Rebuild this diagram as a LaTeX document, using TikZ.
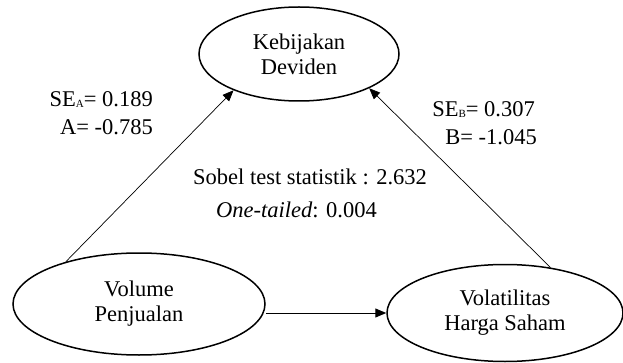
\documentclass[tikz,border=0pt]{standalone}
\usepackage{fontspec}
\setmainfont{Liberation Serif}
\usetikzlibrary{arrows.meta,shapes.geometric}

\newcommand{\sublbl}[1]{\raisebox{-1pt}{\fontsize{11}{11}\selectfont #1}}

\tikzset{
  var/.style={draw, ellipse, line width=1.5pt, inner sep=0pt, align=center,
              font=\fontsize{22.5}{25}\selectfont},
  txt/.style={inner sep=0pt, font=\fontsize{22.5}{27}\selectfont},
  path/.style={line width=0.7pt, -{Triangle[length=11pt,width=9pt]}},
  direct/.style={line width=1pt, -{Triangle[length=11pt,width=9pt]}},
}

\begin{document}
\begin{tikzpicture}[x=1pt, y=-1pt]
  \useasboundingbox (0,0) rectangle (623,363);

  % variables
  \node[var, minimum width=200pt, minimum height=94pt] (kd) at (299,54) {Kebijakan\\Deviden};
  \node[var, minimum width=252pt, minimum height=102pt] (vp) at (139,304) {Volume\\Penjualan};
  \node[var, minimum width=236pt, minimum height=97pt] (vh) at (505,313) {Volatilitas\\Harga Saham};

  % paths
  \draw[path] (vp.150) -- (kd.209);
  \draw[path] (vh.45) -- (kd.334);
  \draw[direct] (vp.east |- vh.west) -- (vh.west);

  % coefficients
  \node[txt, anchor=base east] (sea) at (153,107) {SE\sublbl{A}= 0.189};
  \node[txt, anchor=base east] (ca) at (153,135) {A= -0.785};
  \node[txt, anchor=base east] (seb) at (535,117) {SE\sublbl{B}= 0.307};
  \node[txt, anchor=base east] (cb) at (537,145) {B= -1.045};

  % Sobel test
  \node[txt, anchor=base west] (sobel) at (193,185) {Sobel test statistik : 2.632};
  \node[txt, anchor=base west] (tail) at (216,218) {\textit{One-tailed}: 0.004};
\end{tikzpicture}
\end{document}
